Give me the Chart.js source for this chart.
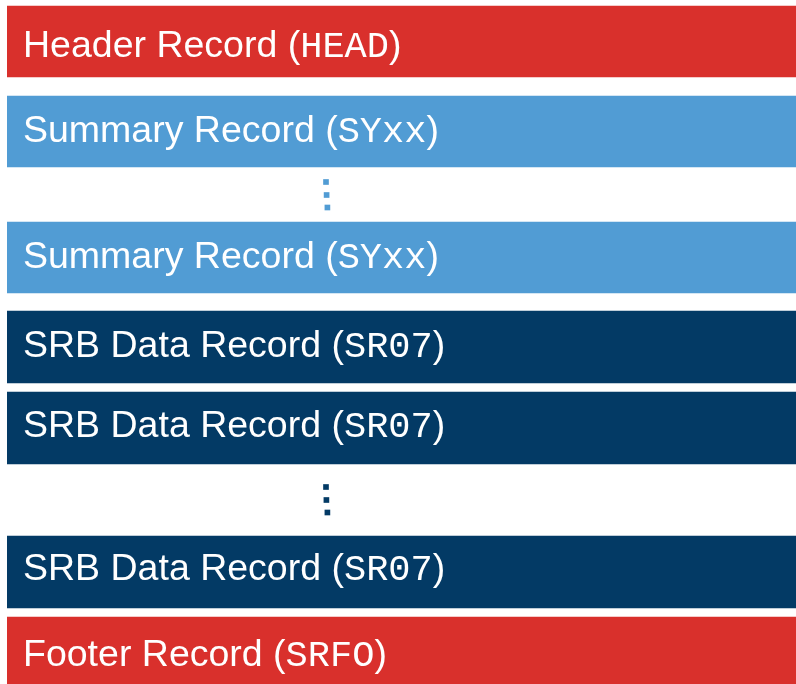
<!DOCTYPE html>
<html>
<head>
<meta charset="utf-8">
<script src="https://cdn.jsdelivr.net/npm/chart.js@4/dist/chart.umd.min.js"></script>
<style>
  html, body { margin: 0; padding: 0; background: #fff; }
  #wrap { width: 796px; height: 684px; position: relative; }
</style>
</head>
<body>
<div id="wrap"><canvas id="records"></canvas></div>
<script>
// records of the file, top to bottom
var recordNames = ['Header Record', 'Summary Record', 'Summary Record', 'SRB Data Record', 'SRB Data Record', 'SRB Data Record', 'Footer Record'];
var recordCodes = ['HEAD', 'SYxx', 'SYxx', 'SR07', 'SR07', 'SR07', 'SRFO'];
var recordKinds = ['edge', 'summary', 'summary', 'data', 'data', 'data', 'edge'];
// vertical span of each record (top, bottom)
var recordStart = [6, 96, 222, 311, 392, 536, 617];
var recordEnd = [77, 167, 293, 383, 464, 608, 690];

// the "..." dots between records
var dotsSummaryX = [326, 326.6, 327.4];
var dotsSummaryY = [182, 195, 207.5];
var dotsDataX = [326, 326.4, 327.4];
var dotsDataY = [487, 500, 512.5];

var colors = { edge: '#d9302c', summary: '#519cd4', data: '#033a65' };
// baseline of the text below the top of its bar
var textDrop = [51, 46, 46, 46, 45, 44, 49];

var datasets = recordNames.map(function(name, i) {
  return {
    type: 'bar',
    label: name,
    data: [[recordStart[i], recordEnd[i]]],
    backgroundColor: colors[recordKinds[i]],
    borderWidth: 0,
    barPercentage: 1,
    categoryPercentage: 1,
    grouped: false,
    xAxisID: 'x',
    order: 2
  };
});

function dots(xs, ys, color) {
  return {
    type: 'scatter',
    data: xs.map(function(x, i) { return { x: x, y: ys[i] }; }),
    backgroundColor: color,
    borderWidth: 0,
    pointStyle: 'rect',
    pointRadius: 4,
    pointHoverRadius: 4,
    xAxisID: 'x2',
    order: 1
  };
}
datasets.push(dots(dotsSummaryX, dotsSummaryY, colors.summary));
datasets.push(dots(dotsDataX, dotsDataY, colors.data));

// writes the record names on the bars
var recordText = {
  id: 'recordText',
  afterDatasetsDraw: function(chart) {
    var ctx = chart.ctx;
    var sans = '37.5px "Liberation Sans", Arial, sans-serif';
    ctx.save();
    ctx.fillStyle = '#fff';
    ctx.textBaseline = 'alphabetic';
    recordNames.forEach(function(name, i) {
      var bar = chart.getDatasetMeta(i).data[0];
      var left = bar.x - bar.width / 2 + 16;
      var base = Math.min(bar.y, bar.base) + textDrop[i];
      ctx.font = sans;
      var t1 = name + ' (';
      ctx.fillText(t1, left, base);
      var x = left + ctx.measureText(t1).width;
      ctx.font = '37px "Liberation Mono", "Courier New", monospace';
      ctx.fillText(recordCodes[i], x, base);
      x += ctx.measureText(recordCodes[i]).width;
      ctx.font = sans;
      ctx.fillText(')', x, base);
    });
    ctx.restore();
  }
};

new Chart(document.getElementById('records'), {
  data: { labels: ['file'], datasets: datasets },
  options: {
    responsive: true,
    maintainAspectRatio: false,
    animation: false,
    layout: { autoPadding: false, padding: { left: 7, right: 0, top: 0, bottom: 0 } },
    plugins: { legend: { display: false }, tooltip: { enabled: false } },
    scales: {
      x: { type: 'category', display: false, offset: true },
      x2: { type: 'linear', display: false, min: 7, max: 796 },
      y: { type: 'linear', display: false, reverse: true, min: 0, max: 684 }
    }
  },
  plugins: [recordText]
});
</script>
</body>
</html>
